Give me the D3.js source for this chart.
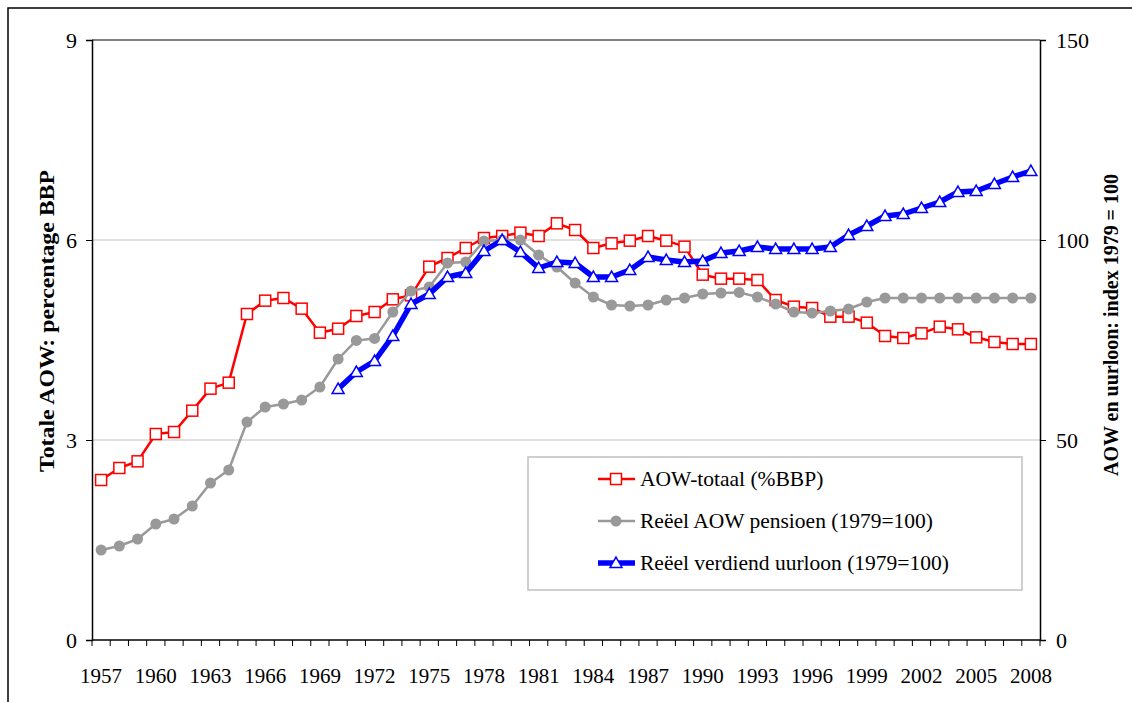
<!DOCTYPE html>
<html>
<head>
<meta charset="utf-8">
<script src="https://cdn.jsdelivr.net/npm/d3@7"></script>
<style>
  body { margin: 0; background: #fff; }
</style>
</head>
<body>
<svg></svg>
<script>
const [WIDTH, HEIGHT] = [1132, 702]
const FONT = "'Liberation Serif', 'Times New Roman', 'DejaVu Serif', serif"

const years = d3.range(1957, 2009)
const tickYears = d3.range(1957, 2009, 3)

// AOW-totaal (%BBP), left axis
const aowTotaal = [2.4, 2.58, 2.68, 3.09, 3.12, 3.44, 3.77, 3.86, 4.89, 5.09,
    5.13, 4.97, 4.61, 4.67, 4.86, 4.92, 5.11, 5.17, 5.6, 5.73,
    5.88, 6.03, 6.06, 6.11, 6.06, 6.25, 6.15, 5.88, 5.95, 5.99,
    6.06, 5.99, 5.9, 5.48, 5.42, 5.42, 5.4, 5.1, 5.0, 4.98,
    4.85, 4.85, 4.76, 4.56, 4.53, 4.6, 4.7, 4.66, 4.54, 4.47,
    4.44, 4.44]

// Reëel AOW pensioen (1979=100), right axis
const aowPensioen = [22.5, 23.5, 25.25, 29, 30.25, 33.5, 39.25, 42.5, 54.5, 58.25,
    59, 60, 63.25, 70.25, 74.9, 75.4, 82, 87.25, 88.25, 94.25,
    94.5, 99.75, 100, 100, 96.25, 93.25, 89.25, 85.75, 83.75, 83.5,
    83.75, 85, 85.5, 86.5, 86.75, 86.9, 85.75, 84, 82, 81.75,
    82.25, 82.75, 84.5, 85.5, 85.5, 85.5, 85.5, 85.5, 85.5, 85.5,
    85.5, 85.5]

// Reëel verdiend uurloon (1979=100), right axis, from 1970
const uurloonYears = d3.range(1970, 2009)
const uurloon = [62.75, 67, 69.75, 76, 84, 86.5, 90.75, 91.75, 97.25, 100,
    97, 93, 94.5, 94.25, 90.75, 90.75, 92.5, 95.75, 95, 94.5,
    94.75, 96.75, 97.25, 98.25, 97.75, 97.75, 97.75, 98.25, 101.25, 103.5,
    106, 106.5, 108, 109.5, 112, 112.25, 114, 115.75, 117.25]

const leftTicks = [0, 3, 6, 9]
const rightTicks = [0, 50, 100, 150]

const margin = { left: 92, right: 92, top: 40, bottom: 62 }

const svg = d3.select("svg")
    .attr("width", WIDTH)
    .attr("height", HEIGHT)
    .attr("font-family", FONT)

const x = d3.scaleBand().domain(years).range([margin.left, WIDTH - margin.right])
const xc = yr => x(yr) + x.bandwidth() / 2
const yL = d3.scaleLinear().domain([0, 9]).range([HEIGHT - margin.bottom, margin.top])
const yR = d3.scaleLinear().domain([0, 150]).range([HEIGHT - margin.bottom, margin.top])

// outer frame
svg.append("rect")
    .attr("x", 8).attr("y", 8)
    .attr("width", 1200).attr("height", 800)
    .attr("fill", "none").attr("stroke", "#000").attr("stroke-width", 1.5)

// gridlines
svg.append("g").selectAll("line")
    .data(leftTicks.filter(d => d > 0))
    .join("line")
    .attr("x1", margin.left).attr("x2", WIDTH - margin.right)
    .attr("y1", d => yL(d)).attr("y2", d => yL(d))
    .attr("stroke", d => d == 9 ? "#808080" : "#c0c0c0")
    .attr("stroke-width", d => d == 9 ? 2 : 1)

// left axis
const leftAxis = svg.append("g")
    .attr("transform", `translate(${margin.left},0)`)
    .call(d3.axisLeft(yL).tickValues(leftTicks).tickSize(6).tickPadding(9))
    .attr("font-family", FONT)
leftAxis.select(".domain").attr("stroke", "#000").attr("stroke-width", 1.5)
leftAxis.selectAll(".tick line").attr("stroke", "#000")
leftAxis.selectAll("text").attr("font-size", 22).attr("fill", "#000")

// right axis
const rightAxis = svg.append("g")
    .attr("transform", `translate(${WIDTH - margin.right},0)`)
    .call(d3.axisRight(yR).tickValues(rightTicks).tickSize(6).tickPadding(10))
    .attr("font-family", FONT)
rightAxis.select(".domain").attr("stroke", "#000").attr("stroke-width", 1.5)
rightAxis.selectAll(".tick line").attr("stroke", "#000")
rightAxis.selectAll("text").attr("font-size", 22).attr("fill", "#000")

// bottom axis: ticks between categories, labels every 3 years
const base = HEIGHT - margin.bottom
const boundaries = years.map(d => x(d)).concat([WIDTH - margin.right])
svg.append("g").selectAll("line")
    .data(boundaries)
    .join("line")
    .attr("x1", d => d).attr("x2", d => d)
    .attr("y1", base).attr("y2", base + 6)
    .attr("stroke", "#000")
svg.append("line")
    .attr("x1", margin.left).attr("x2", WIDTH - margin.right)
    .attr("y1", base).attr("y2", base)
    .attr("stroke", "#000").attr("stroke-width", 1.5)
svg.append("g").selectAll("text")
    .data(tickYears)
    .join("text")
    .attr("x", d => xc(d))
    .attr("y", base + 43)
    .attr("text-anchor", "middle")
    .attr("font-size", 21)
    .text(d => d)

// axis titles
svg.append("text")
    .attr("transform", `translate(54,321) rotate(-90)`)
    .attr("text-anchor", "middle")
    .attr("font-size", 21).attr("font-weight", "bold")
    .attr("textLength", 302).attr("lengthAdjust", "spacingAndGlyphs")
    .text("Totale AOW: percentage BBP")
svg.append("text")
    .attr("transform", `translate(1118,325) rotate(-90)`)
    .attr("text-anchor", "middle")
    .attr("font-size", 21).attr("font-weight", "bold")
    .attr("textLength", 302).attr("lengthAdjust", "spacingAndGlyphs")
    .text("AOW en uurloon: index 1979 = 100")

// series
const series = [
    { name: "AOW-totaal (%BBP)", xs: years, ys: aowTotaal, y: yL, color: "#ff0000", width: 2.5, marker: "square" },
    { name: "Reëel AOW pensioen (1979=100)", xs: years, ys: aowPensioen, y: yR, color: "#999999", width: 2.5, marker: "circle" },
    { name: "Reëel verdiend uurloon (1979=100)", xs: uurloonYears, ys: uurloon, y: yR, color: "#0000ff", width: 5.5, marker: "triangle" }
]

function drawMarker(g, kind, color) {
    if (kind == "square") {
        g.append("rect").attr("x", -5.5).attr("y", -5.5).attr("width", 11).attr("height", 11)
            .attr("fill", "#fff").attr("stroke", color).attr("stroke-width", 1.5)
    } else if (kind == "circle") {
        g.append("circle").attr("r", 5.5).attr("fill", color)
    } else {
        g.append("path").attr("d", d3.symbol(d3.symbolTriangle, 62)())
            .attr("transform", "translate(0,1)")
            .attr("fill", "#fff").attr("stroke", color).attr("stroke-width", 1.5)
    }
}

for (const s of series) {
    const pts = s.xs.map((yr, i) => [xc(yr), s.y(s.ys[i])])
    const g = svg.append("g")
    g.append("path")
        .attr("d", d3.line()(pts))
        .attr("fill", "none")
        .attr("stroke", s.color)
        .attr("stroke-width", s.width)
        .attr("stroke-linejoin", "round")
    g.selectAll("g")
        .data(pts)
        .join("g")
        .attr("transform", d => `translate(${d[0]},${d[1]})`)
        .each(function() { drawMarker(d3.select(this), s.marker, s.color) })
}

// legend
const legend = svg.append("g")
legend.append("rect")
    .attr("x", 528).attr("y", 457).attr("width", 494).attr("height", 133)
    .attr("fill", "#fff").attr("stroke", "#c0c0c0").attr("stroke-width", 1.5)
series.forEach((s, i) => {
    const ly = 479 + i * 42
    const item = legend.append("g").attr("transform", `translate(0,${ly})`)
    item.append("line")
        .attr("x1", 598).attr("x2", 635).attr("y1", 0).attr("y2", 0)
        .attr("stroke", s.color).attr("stroke-width", s.width)
    drawMarker(item.append("g").attr("transform", "translate(616,0)"), s.marker, s.color)
    item.append("text")
        .attr("x", 640).attr("y", 7)
        .attr("font-size", 21.5)
        .text(s.name)
})
</script>
</body>
</html>
